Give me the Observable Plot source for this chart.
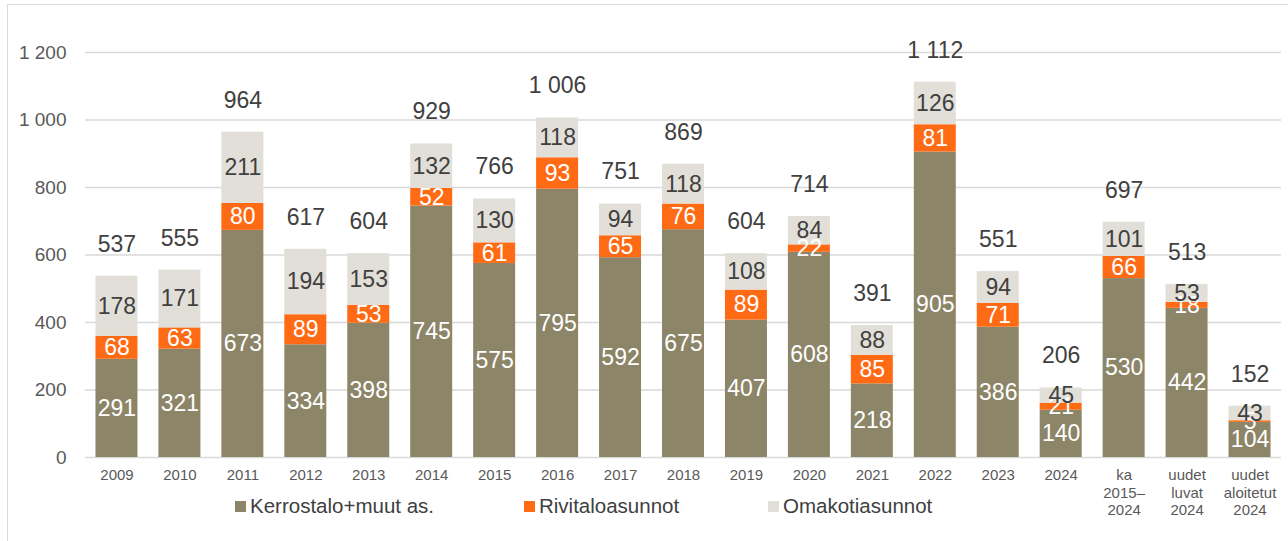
<!DOCTYPE html>
<html>
<head>
<meta charset="utf-8">
<script src="https://cdn.jsdelivr.net/npm/d3@7"></script>
<script src="https://cdn.jsdelivr.net/npm/@observablehq/plot@0.6"></script>
<style>
  body { margin: 0; background: #fff; overflow: hidden; }
  #wrap { position: relative; width: 1288px; height: 541px; }
  #frame { position: absolute; left: 7px; top: 4px; width: 1300px; height: 560px; border: 1.5px solid #dedbd4; box-sizing: border-box; pointer-events: none; }
  #legend { position: absolute; top: 495px; left: 0; height: 22px; font-family: "Liberation Sans Narrow", "Liberation Sans", sans-serif; font-size: 20.5px; color: #404040; }
  .item { position: absolute; top: 0; white-space: nowrap; display: flex; align-items: center; height: 22px; }
  .sw { width: 11px; height: 11px; margin-right: 4px; display: inline-block; }
</style>
</head>
<body>
<div id="wrap">
  <div id="chart"></div>
  <div id="frame"></div>
  <div id="legend"></div>
</div>
<script>
const categories = ["2009","2010","2011","2012","2013","2014","2015","2016","2017","2018","2019","2020","2021","2022","2023","2024","ka\n2015–\n2024","uudet\nluvat\n2024","uudet\naloitetut\n2024"];
const seriesNames = ["Kerrostalo+muut as.", "Rivitaloasunnot", "Omakotiasunnot"];
const kerrostalo = [291,321,673,334,398,745,575,795,592,675,407,608,218,905,386,140,530,442,104];
const rivitalo   = [68,63,80,89,53,52,61,93,65,76,89,22,85,81,71,21,66,18,5];
const omakoti    = [178,171,211,194,153,132,130,118,94,118,108,84,88,126,94,45,101,53,43];
const totals     = [537,555,964,617,604,929,766,1006,751,869,604,714,391,1112,551,206,697,513,152];
const yTicks = [0,200,400,600,800,1000,1200];
const colors = ["#8c8567", "#ff6a14", "#e2dfd8"];
const labelColors = ["#ffffff", "#ffffff", "#404040"];

const series = [kerrostalo, rivitalo, omakoti];
const rows = [];
categories.forEach((c, i) => {
  let base = 0;
  series.forEach((s, k) => {
    rows.push({cat: c, type: seriesNames[k], value: s[i], y1: base, y2: base + s[i], mid: base + s[i] / 2, lc: labelColors[k]});
    base += s[i];
  });
});
const totalRows = categories.map((c, i) => ({cat: c, total: totals[i]}));

const fmt = d => d3.format(",")(d).replace(/,/g, " ");
const font = "'Liberation Sans', Arial, sans-serif";

const chart = Plot.plot({
  width: 1288,
  height: 541,
  marginLeft: 85,
  marginRight: 7,
  marginTop: 52,
  marginBottom: 84,
  style: {fontFamily: font, background: "transparent", overflow: "visible"},
  x: {domain: categories, paddingInner: 0.333, paddingOuter: 0.1665, round: false, label: null},
  y: {domain: [0, 1200], label: null},
  color: {domain: seriesNames, range: colors},
  marks: [
    Plot.gridY(yTicks, {stroke: "#d9d9d9", strokeOpacity: 1, strokeWidth: 1.6}),
    Plot.axisY(yTicks, {tickSize: 0, tickPadding: 19, tickFormat: fmt, fontSize: 19, color: "#595959", label: null}),
    Plot.axisX({tickSize: 0, tickPadding: 10, fontSize: 15, color: "#595959", lineHeight: 1.17, label: null}),
    Plot.barY(rows, {x: "cat", y1: "y1", y2: "y2", fill: "type"}),
    Plot.text(rows, {x: "cat", y: "mid", text: d => String(d.value), fill: "lc", fontSize: 23}),
    Plot.text(totalRows, {x: "cat", y: "total", text: d => fmt(d.total), fill: "#404040", fontSize: 23, dy: -32})
  ]
});
document.getElementById("chart").appendChild(chart);

const legend = document.getElementById("legend");
const legendLeft = [235, 524, 768];
seriesNames.forEach((n, k) => {
  const it = document.createElement("div");
  it.className = "item";
  it.style.left = legendLeft[k] + "px";
  it.innerHTML = `<span class="sw" style="background:${colors[k]}"></span><span>${n}</span>`;
  legend.appendChild(it);
});
</script>
</body>
</html>
